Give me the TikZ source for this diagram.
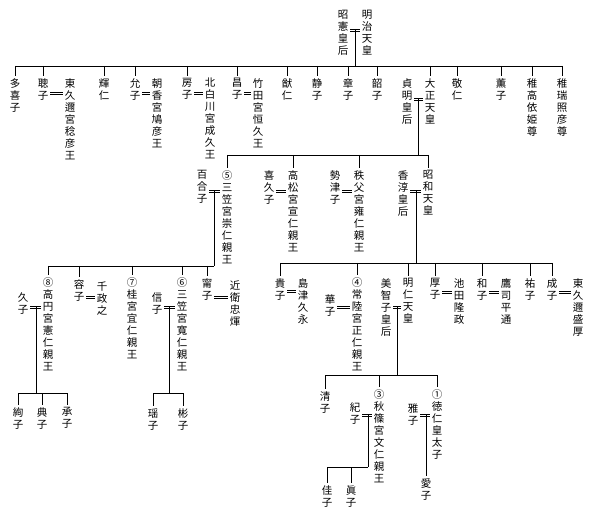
\documentclass[tikz,border=0pt]{standalone}
\usepackage{fontspec}
\newfontfamily\jfont{Noto Sans CJK JP}

\tikzset{
  vt/.style={font=\jfont\fontsize{10.5}{12}\selectfont, align=center, anchor=north,
    inner xsep=1.5pt, inner ysep=2pt},
  wed/.style={line width=0.5pt},
}
% double marriage line between wife (#1) and husband (#2) at height #3
\newcommand{\marry}[3]{%
  \draw[wed] (#1.east |- 0,#3-1.2) -- (#2.west |- 0,#3-1.2);
  \draw[wed] (#1.east |- 0,#3+1.2) -- (#2.west |- 0,#3+1.2);}

\begin{document}
\begin{tikzpicture}[x=1pt, y=-1pt, line width=0.7pt]
  \fill[white] (0,0) rectangle (602,526); % page size of the scan

  % Meiji and his children
  \node[vt] (shoken) at (343,8) {昭\\憲\\皇\\后};
  \node[vt] (meiji) at (367,8) {明\\治\\天\\皇};
  \node[vt] (takiko) at (15,76) {多\\喜\\子};
  \node[vt] (satoko) at (43,76) {聰\\子};
  \node[vt] (toshihiko) at (70,76) {東\\久\\邇\\宮\\稔\\彦\\王};
  \node[vt] (teruhito) at (104,76) {輝\\仁};
  \node[vt] (nobuko) at (135,76) {允\\子};
  \node[vt] (yasuhiko) at (157,76) {朝\\香\\宮\\鳩\\彦\\王};
  \node[vt] (fusako) at (187,76) {房\\子};
  \node[vt] (naruhisa) at (210,76) {北\\白\\川\\宮\\成\\久\\王};
  \node[vt] (masako) at (237,76) {昌\\子};
  \node[vt] (tsunehisa) at (258,76) {竹\\田\\宮\\恒\\久\\王};
  \node[vt] (michihito) at (287,76) {猷\\仁};
  \node[vt] (shizuko) at (317,76) {静\\子};
  \node[vt] (akiko) at (348,76) {章\\子};
  \node[vt] (fumiko) at (377,76) {韶\\子};
  \node[vt] (teimei) at (407,76) {貞\\明\\皇\\后};
  \node[vt] (taisho) at (430,76) {大\\正\\天\\皇};
  \node[vt] (takehito) at (457,76) {敬\\仁};
  \node[vt] (shigeko) at (501,76) {薫\\子};
  \node[vt] (takahime) at (532,76) {稚\\高\\依\\姫\\尊};
  \node[vt] (wakamitsu) at (562,76) {稚\\瑞\\照\\彦\\尊};

  \coordinate (m1) at (355,30);
  \marry{shoken}{meiji}{30}
  \draw (m1) -- (m1 |- 0,66);
  \draw (takiko.north |- 0,66) -- (wakamitsu.north |- 0,66);
  \foreach \c in {takiko,satoko,teruhito,nobuko,fusako,masako,michihito,shizuko,
    akiko,fumiko,taisho,takehito,shigeko,takahime,wakamitsu}
    \draw (\c.north |- 0,66) -- (\c.north);
  \marry{satoko}{toshihiko}{93}
  \marry{nobuko}{yasuhiko}{93}
  \marry{fusako}{naruhisa}{93}
  \marry{masako}{tsunehisa}{93}

  % Taisho and his sons
  \node[vt] (yuriko) at (202,168) {百\\合\\子};
  \node[vt] (takahito) at (227,168) {⑤\\三\\笠\\宮\\崇\\仁\\親\\王};
  \node[vt] (kikuko) at (269,168) {喜\\久\\子};
  \node[vt] (nobuhito) at (293,168) {高\\松\\宮\\宣\\仁\\親\\王};
  \node[vt] (setsuko) at (335,168) {勢\\津\\子};
  \node[vt] (yasuhito) at (359,168) {秩\\父\\宮\\雍\\仁\\親\\王};
  \node[vt] (kojun) at (403,168) {香\\淳\\皇\\后};
  \node[vt] (showa) at (428,168) {昭\\和\\天\\皇};

  \coordinate (m2) at (418,99);
  \marry{teimei}{taisho}{99}
  \draw (m2) -- (m2 |- 0,155);
  \draw (takahito.north |- 0,155) -- (showa.north |- 0,155);
  \foreach \c in {takahito,nobuhito,yasuhito,showa}
    \draw (\c.north |- 0,155) -- (\c.north);
  \marry{kikuko}{nobuhito}{191}
  \marry{setsuko}{yasuhito}{191}

  % Mikasa branch
  \node[vt] (hisako) at (23,290) {久\\子};
  \node[vt] (norihito) at (48,275) {⑧\\高\\円\\宮\\憲\\仁\\親\\王};
  \node[vt] (yasuko) at (79,277) {容\\子};
  \node[vt] (masayuki) at (102,279) {千\\政\\之};
  \node[vt] (yoshihito) at (132,275) {⑦\\桂\\宮\\宜\\仁\\親\\王};
  \node[vt] (nobuko2) at (157,290) {信\\子};
  \node[vt] (tomohito) at (182,275) {⑥\\三\\笠\\宮\\寬\\仁\\親\\王};
  \node[vt] (yasuko2) at (207,276) {甯\\子};
  \node[vt] (tadateru) at (235,278) {近\\衛\\忠\\煇};

  \coordinate (m3) at (214,191);
  \marry{yuriko}{takahito}{191}
  \draw (m3) -- (m3 |- 0,266);
  \draw (norihito.north |- 0,266) -- (m3 |- 0,266);
  \foreach \c in {norihito,yasuko,yoshihito,tomohito,yasuko2}
    \draw (\c.north |- 0,266) -- (\c.north);
  \marry{yasuko}{masayuki}{297}
  \marry{yasuko2}{tadateru}{297}

  \node[vt] (ayako) at (18,405) {絢\\子};
  \node[vt] (noriko) at (42,405) {典\\子};
  \node[vt] (tsuguko) at (67,405) {承\\子};
  \coordinate (m5) at (36,307);
  \marry{hisako}{norihito}{307}
  \draw (m5) -- (m5 |- 0,393);
  \draw (ayako.north |- 0,393) -- (tsuguko.north |- 0,393);
  \foreach \c in {ayako,noriko,tsuguko}
    \draw (\c.north |- 0,393) -- (\c.north);

  \node[vt] (yoko) at (153,406) {瑶\\子};
  \node[vt] (akiko2) at (183,406) {彬\\子};
  \coordinate (m6) at (169,307);
  \marry{nobuko2}{tomohito}{307}
  \draw (m6) -- (m6 |- 0,393);
  \draw (yoko.north |- 0,393) -- (akiko2.north |- 0,393);
  \foreach \c in {yoko,akiko2}
    \draw (\c.north |- 0,393) -- (\c.north);

  % Showa and his children
  \node[vt] (takako) at (280,276) {貴\\子};
  \node[vt] (hisanaga) at (303,276) {島\\津\\久\\永};
  \node[vt] (hanako) at (330,292) {華\\子};
  \node[vt] (masahito) at (357,275) {④\\常\\陸\\宮\\正\\仁\\親\\王};
  \node[vt] (michiko) at (386,276) {美\\智\\子\\皇\\后};
  \node[vt] (akihito) at (408,276) {明\\仁\\天\\皇};
  \node[vt] (atsuko) at (435,276) {厚\\子};
  \node[vt] (takamasa) at (459,276) {池\\田\\隆\\政};
  \node[vt] (kazuko) at (482,276) {和\\子};
  \node[vt] (toshimichi) at (506,276) {鷹\\司\\平\\通};
  \node[vt] (sachiko) at (530,276) {祐\\子};
  \node[vt] (shigeko2) at (552,276) {成\\子};
  \node[vt] (morihiro) at (578,276) {東\\久\\邇\\盛\\厚};

  \coordinate (m4) at (416,191);
  \marry{kojun}{showa}{191}
  \draw (m4) -- (m4 |- 0,263);
  \draw (takako.north |- 0,263) -- (shigeko2.north |- 0,263);
  \foreach \c in {takako,masahito,akihito,atsuko,kazuko,sachiko,shigeko2}
    \draw (\c.north |- 0,263) -- (\c.north);
  \marry{takako}{hisanaga}{291}
  \marry{hanako}{masahito}{307}
  \marry{atsuko}{takamasa}{292}
  \marry{kazuko}{toshimichi}{292}
  \marry{shigeko2}{morihiro}{292}

  % Akihito and his children
  \node[vt] (sayako) at (325,389) {清\\子};
  \node[vt] (kiko) at (355,400) {紀\\子};
  \node[vt] (fumihito) at (379,387) {③\\秋\\篠\\宮\\文\\仁\\親\\王};
  \node[vt] (masako2) at (413,401) {雅\\子};
  \node[vt] (naruhito) at (437,387) {①\\徳\\仁\\皇\\太\\子};
  \node[vt] (aiko) at (426,476) {愛\\子};
  \node[vt] (kako) at (327,483) {佳\\子};
  \node[vt] (mako) at (351,483) {眞\\子};

  \coordinate (m7) at (397,307);
  \marry{michiko}{akihito}{307}
  \draw (m7) -- (m7 |- 0,375);
  \draw (sayako.north |- 0,375) -- (naruhito.north |- 0,375);
  \foreach \c in {sayako,fumihito,naruhito}
    \draw (\c.north |- 0,375) -- (\c.north);

  \coordinate (m8) at (368,415);
  \marry{kiko}{fumihito}{415}
  \draw (m8) -- (m8 |- 0,467);
  \draw (kako.north |- 0,467) -- (m8 |- 0,467);
  \foreach \c in {kako,mako}
    \draw (\c.north |- 0,467) -- (\c.north);

  \coordinate (m9) at (426,415);
  \marry{masako2}{naruhito}{415}
  \draw (m9) -- (aiko.north);
\end{tikzpicture}
\end{document}
